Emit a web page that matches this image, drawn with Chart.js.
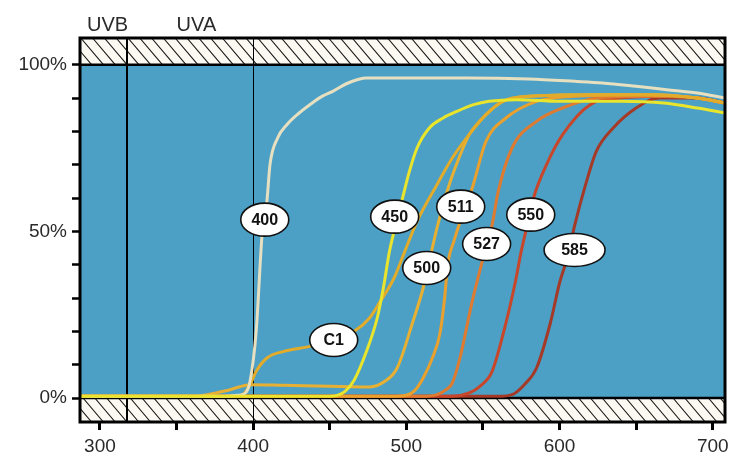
<!DOCTYPE html>
<html><head><meta charset="utf-8">
<script src="https://cdn.jsdelivr.net/npm/chart.js@4/dist/chart.umd.min.js"></script>
<style>html,body{margin:0;padding:0;background:#fff}</style>
</head><body>
<canvas id="c" width="740" height="454"></canvas>
<script>
// ---------- DATA ----------
const seriesNames = ['450','400','C1','500','511','527','550','585'];

const wl400 = [287,380,390,395,398,402,406,409,411,416,422,430,437,445,452,462,474,500,540,580,610,628,650,670,690,708];
const t400  = [0.5,0.5,0.8,1.5,5,20,50,59,70,78,82,85.5,88,90.5,92,94.5,96,96,96,95.7,95,94.5,93.5,92.5,91.5,90];

const wlC1 = [287,385,393,398,402,409,420,437,452,466,476,483,492,499,507,520,530,541,552,563,580,620,660,690,708];
const tC1  = [0.5,0.5,1,4,8,12,14,15.5,17.5,20,24,29,36,44,53,64,72,79,85,89,90.5,91,91,90,88.5];

const wl450 = [287,440,452,460,466,474,481,485,489,492,497,502,507,515,524,533,544,554,572,600,640,668,690,708];
const t450  = [0.5,0.5,0.6,2,5.4,14,24,33,44,50,59,68,75,81,84,86,88,89,89.5,89,89,88.5,87,85.5];

const wl500 = [287,360,370,385,398,420,450,476,486,494,504,511,520,528,537,541,552,563,580,620,660,690,708];
const t500  = [0.5,0.5,1,2.5,4,3.8,3.5,3.3,5,9,22.5,33,51,64,75,79,85,89,90.5,91,91,90,88.5];

const wl511 = [287,490,500,506,511,517,522,525,527,531,536,543,552,565,585,610,650,690,708];
const t511  = [0.5,0.5,0.8,2.5,6,12,19.5,30,40,47,54,63,77,84,89,90.5,91,90,88.5];

const wl527 = [287,510,520,526,530,535,543,549,556,560,569,585,602,625,660,690,708];
const t527  = [0.5,0.5,1,2.5,4.5,12,29,40,52,62,75,83,87,90,90.5,90,88.5];

const wl550 = [287,530,541,548,556,565,571,575,579,583,592,602,620,640,670,690,708];
const t550  = [0.5,0.5,1.5,3.5,8,22.5,34.5,44,52,60,70.5,79,88,90,90.5,90,88.5];

const wl585 = [287,560,569,577,585,594,600,605,610,617,624,635,650,665,690,708];
const t585  = [0.5,0.5,1,4,9,22.5,34.5,42,52,64,74,81,87,90,90,88.5];

const xTicks = [300,350,400,450,500,550,600,650,700];
const xTickLabels = [300,400,500,600,700];
const yTicks = [0,10,20,30,40,50,60,70,80,90,100];
const yTickLabels = [0,50,100];

const bandNames = ['UVB','UVA'];
const bandCenters = [305,363];
const boundaryLines = [318,400];

const labelTexts = ['400','450','511','550','500','527','585','C1'];
const labelX = [407.6,492.4,535.5,581.2,513.3,552.4,609.8,452.6];
const labelY = [53.5,54.4,57.4,55,39,46.2,44.4,17.4];

// ---------- STYLE ----------
const colors = {
  '400':'#e6dfc0','C1':'#e2ac2a','450':'#e9e42c','500':'#e8b032',
  '511':'#e9a02c','527':'#df7b30','550':'#c8462a','585':'#a43a27'
};
const seriesData = {
  '400':[wl400,t400],'C1':[wlC1,tC1],'450':[wl450,t450],'500':[wl500,t500],
  '511':[wl511,t511],'527':[wl527,t527],'550':[wl550,t550],'585':[wl585,t585]
};
const FONT = '"Liberation Sans", Arial, sans-serif';

const datasets = seriesNames.map((n,i)=>({
  label:n,
  data: seriesData[n][0].map((x,j)=>({x:x,y:seriesData[n][1][j]})),
  borderColor: colors[n],
  borderWidth: 3,
  pointRadius: 0,
  fill:false,
  cubicInterpolationMode:'monotone',
  order: i
}));

const decor = {
  id:'decor',
  beforeDraw(chart){
    const {ctx, chartArea:a, scales:{x,y}} = chart;
    const y0 = y.getPixelForValue(0), y100 = y.getPixelForValue(100);
    ctx.save();
    ctx.fillStyle = '#4ca0c5';
    ctx.fillRect(a.left, y100, a.right-a.left, y0-y100);
    // hatch bands
    const bands = [[a.top,y100],[y0,a.bottom]];
    bands.forEach(([t,b])=>{
      ctx.save();
      ctx.beginPath(); ctx.rect(a.left,t,a.right-a.left,b-t); ctx.clip();
      ctx.fillStyle = '#fbf9f2';
      ctx.fillRect(a.left,t,a.right-a.left,b-t);
      ctx.strokeStyle = '#1a1a1a'; ctx.lineWidth = 1.1;
      const h = b-t, dx = h*0.85;
      ctx.beginPath();
      for(let xx=a.left-dx-12; xx<a.right+12; xx+=11.8){
        ctx.moveTo(xx,t); ctx.lineTo(xx+dx,b);
      }
      ctx.stroke();
      ctx.restore();
    });
    ctx.restore();
  },
  beforeDatasetsDraw(chart){
    const {ctx, chartArea:a, scales:{x,y}} = chart;
    ctx.save();
    ctx.strokeStyle='#000';
    boundaryLines.forEach((v,i)=>{
      const px = Math.round(x.getPixelForValue(v));
      ctx.lineWidth = i===0?2:1;
      ctx.beginPath(); ctx.moveTo(px+(i===0?0:0.5),a.top); ctx.lineTo(px+(i===0?0:0.5),a.bottom); ctx.stroke();
    });
    ctx.lineWidth = 2.5;
    [0,100].forEach(v=>{
      const py = y.getPixelForValue(v);
      ctx.beginPath(); ctx.moveTo(a.left,py); ctx.lineTo(a.right,py); ctx.stroke();
    });
    ctx.restore();
  },
  afterDatasetsDraw(chart){
    const {ctx, chartArea:a, scales:{x,y}} = chart;
    ctx.save();
    ctx.strokeStyle='#000'; ctx.lineWidth=3;
    ctx.strokeRect(a.left, a.top, a.right-a.left, a.bottom-a.top);
    // band names
    ctx.fillStyle='#2a2a2a'; ctx.font='20px '+FONT;
    ctx.textAlign='center'; ctx.textBaseline='alphabetic';
    bandNames.forEach((n,i)=>ctx.fillText(n, x.getPixelForValue(bandCenters[i]), 31));
    // labels
    labelTexts.forEach((t,i)=>{
      const cx = x.getPixelForValue(labelX[i]), cy = y.getPixelForValue(labelY[i]);
      const rw = (t==='585'?30.5:24), rh = 16.5;
      ctx.beginPath(); ctx.ellipse(cx,cy,rw,rh,0,0,Math.PI*2);
      ctx.fillStyle='#fff'; ctx.fill();
      ctx.lineWidth=1.6; ctx.strokeStyle='#111'; ctx.stroke();
      ctx.fillStyle='#111'; ctx.font='bold 16px '+FONT;
      ctx.textAlign='center'; ctx.textBaseline='middle';
      ctx.fillText(t, cx, cy+1);
    });
    ctx.restore();
  }
};

new Chart(document.getElementById('c'), {
  type:'line',
  data:{datasets},
  options:{
    responsive:false, animation:false, devicePixelRatio:1,
    layout:{padding:{top:38,right:15,left:0,bottom:0}},
    plugins:{legend:{display:false},tooltip:{enabled:false}},
    scales:{
      x:{
        type:'linear', min:287, max:708,
        afterBuildTicks(s){ s.ticks = xTicks.map(v=>({value:v})); },
        afterFit(s){ s.height = 32; },
        grid:{display:true, drawOnChartArea:false, drawTicks:true, tickLength:8, tickWidth:3, tickColor:'#000'},
        border:{display:false},
        ticks:{ autoSkip:false, maxRotation:0, padding:5, color:'#2a2a2a', font:{family:FONT,size:19},
          callback(v){ return xTickLabels.includes(v)? String(v) : ''; } }
      },
      y:{
        type:'linear', min:-7.2, max:108,
        afterBuildTicks(s){ s.ticks = yTicks.map(v=>({value:v})); },
        afterFit(s){ s.width = 80; },
        grid:{display:true, drawOnChartArea:false, drawTicks:true, tickLength:8, tickWidth:2.5, tickColor:'#000'},
        border:{display:false},
        ticks:{ autoSkip:false, padding:5, color:'#2a2a2a', font:{family:FONT,size:19},
          callback(v){ return yTickLabels.includes(v)? v+'%' : ''; } }
      }
    }
  },
  plugins:[decor]
});
</script>
</body></html>
